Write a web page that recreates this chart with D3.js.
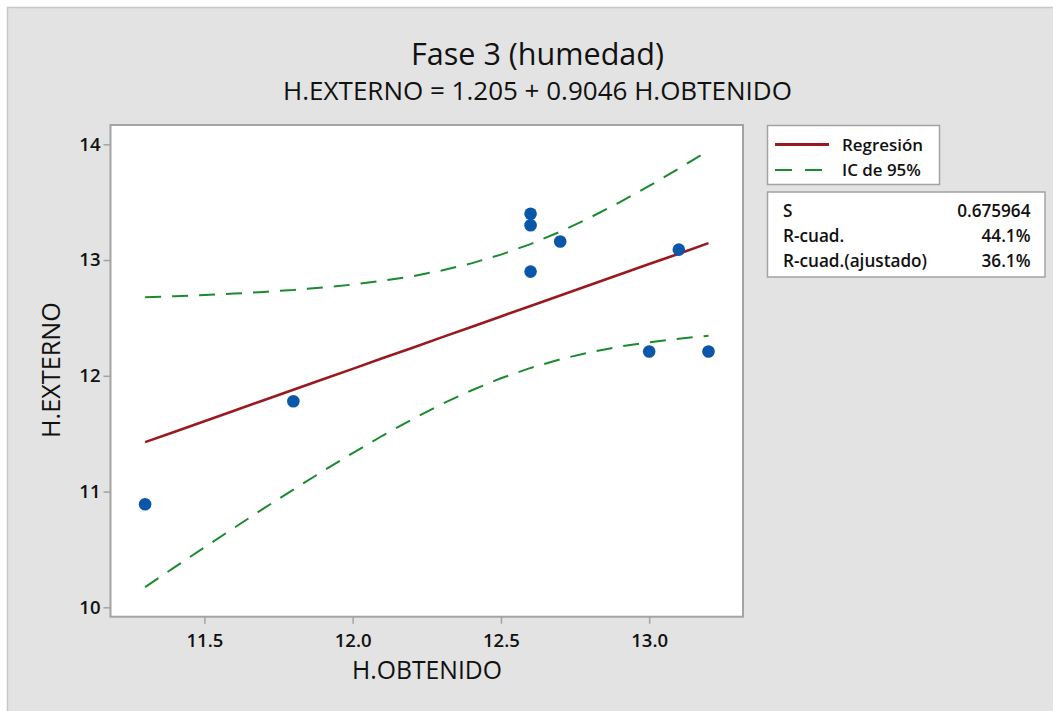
<!DOCTYPE html>
<html>
<head>
<meta charset="utf-8">
<script src="https://cdn.jsdelivr.net/npm/d3@7"></script>
<style>
  html, body { margin: 0; padding: 0; background: #ffffff; }
  svg { display: block; }
  text { font-family: "Segoe UI", "Open Sans", "Noto Sans", sans-serif; fill: #111; }
</style>
</head>
<body>
<svg id="chart" width="1053" height="711"></svg>
<script>
// ---- data ----
const title = "Fase 3 (humedad)";
const subtitle = "H.EXTERNO = 1.205 + 0.9046 H.OBTENIDO";
const xLabel = "H.OBTENIDO";
const yLabel = "H.EXTERNO";

const obtenido = [11.3, 11.8, 12.6, 12.6, 12.6, 12.7, 13.0, 13.1, 13.2];
const externo  = [10.89, 11.78, 13.40, 13.30, 12.90, 13.16, 12.21, 13.09, 12.21];

const fitX     = [11.3, 11.4, 11.5, 11.6, 11.7, 11.8, 11.9, 12.0, 12.1, 12.2, 12.3, 12.4, 12.5, 12.6, 12.7, 12.8, 12.9, 13.0, 13.1, 13.2];
const fitY     = [11.427, 11.517, 11.608, 11.698, 11.789, 11.879, 11.970, 12.060, 12.151, 12.241, 12.332, 12.422, 12.513, 12.603, 12.694, 12.784, 12.875, 12.965, 13.055, 13.146];
const ciUpper  = [12.679, 12.688, 12.698, 12.710, 12.725, 12.741, 12.763, 12.788, 12.820, 12.859, 12.910, 12.971, 13.047, 13.138, 13.245, 13.366, 13.499, 13.640, 13.790, 13.946];
const ciLower  = [10.175, 10.347, 10.518, 10.686, 10.854, 11.017, 11.177, 11.332, 11.482, 11.623, 11.755, 11.873, 11.979, 12.068, 12.143, 12.203, 12.252, 12.290, 12.320, 12.346];

const xTicks = [11.5, 12.0, 12.5, 13.0];
const yTicks = [10, 11, 12, 13, 14];

const legendLabels = ["Regresión", "IC de 95%"];
const statNames  = ["S", "R-cuad.", "R-cuad.(ajustado)"];
const statValues = ["0.675964", "44.1%", "36.1%"];

// ---- layout ----
const svg = d3.select("#chart");
const plot = { left: 110.5, right: 743, top: 125, bottom: 616.7 };

const x = d3.scaleLinear().domain([11.1833, 13.3164]).range([plot.left, plot.right]);
const y = d3.scaleLinear().domain([9.9188, 14.1667]).range([plot.bottom, plot.top]);

const RED = "#981a1e", GREEN = "#1b8a2e", BLUE = "#0a56a8", FRAME = "#a3a3a3";
const FONT = '"Segoe UI", "Open Sans", "Noto Sans", sans-serif';

function fitWidth(sel, target) {
  const node = sel.node();
  const w = node.getComputedTextLength();
  const fs = parseFloat(sel.attr("font-size"));
  sel.attr("font-size", (fs * target / w).toFixed(2));
}

// panel background
svg.append("rect").attr("x", 7.5).attr("y", 7.5).attr("width", 1053).attr("height", 711)
  .attr("fill", "#e3e3e3").attr("stroke", "#c8c8c8").attr("stroke-width", 1.5);

// titles
const t1 = svg.append("text").attr("x", 537.5).attr("y", 65).attr("text-anchor", "middle")
  .attr("font-size", 28).attr("font-weight", 500).text(title);
fitWidth(t1, 253);
const t2 = svg.append("text").attr("x", 537.5).attr("y", 100).attr("text-anchor", "middle")
  .attr("font-size", 22).attr("font-weight", 500).text(subtitle);
fitWidth(t2, 509);

// plot area
svg.append("rect").attr("x", plot.left).attr("y", plot.top)
  .attr("width", plot.right - plot.left).attr("height", plot.bottom - plot.top)
  .attr("fill", "#ffffff").attr("stroke", FRAME).attr("stroke-width", 2);

// axes
const xAxis = svg.append("g").attr("transform", `translate(0,${plot.bottom})`)
  .call(d3.axisBottom(x).tickValues(xTicks).tickFormat(d3.format(".1f")).tickSize(7).tickPadding(10));
const yAxis = svg.append("g").attr("transform", `translate(${plot.left},0)`)
  .call(d3.axisLeft(y).tickValues(yTicks).tickFormat(d3.format("d")).tickSize(7).tickPadding(3));
[xAxis, yAxis].forEach(g => {
  g.select(".domain").remove();
  g.selectAll(".tick line").attr("stroke", FRAME).attr("stroke-width", 1.5);
  g.selectAll(".tick text").attr("font-size", 18.5).attr("font-weight", 600).attr("fill", "#111")
    .style("font-family", FONT);
});

// axis labels
const xl = svg.append("text").attr("x", 427).attr("y", 679).attr("text-anchor", "middle")
  .attr("font-size", 22).attr("font-weight", 500).text(xLabel);
fitWidth(xl, 150);
const yl = svg.append("text").attr("transform", "translate(60,370) rotate(-90)")
  .attr("text-anchor", "middle").attr("font-size", 22).attr("font-weight", 500).text(yLabel);
fitWidth(yl, 136);

// lines
const line = d3.line().x(d => x(d[0])).y(d => y(d[1]));
const g = svg.append("g");
g.append("path").datum(fitX.map((v, i) => [v, ciUpper[i]])).attr("d", line)
  .attr("fill", "none").attr("stroke", GREEN).attr("stroke-width", 2).attr("stroke-dasharray", "16,11");
g.append("path").datum(fitX.map((v, i) => [v, ciLower[i]])).attr("d", line)
  .attr("fill", "none").attr("stroke", GREEN).attr("stroke-width", 2).attr("stroke-dasharray", "16,11");
g.append("path").datum(fitX.map((v, i) => [v, fitY[i]])).attr("d", line)
  .attr("fill", "none").attr("stroke", RED).attr("stroke-width", 2.6);

// points
g.selectAll("circle").data(obtenido.map((v, i) => [v, externo[i]])).join("circle")
  .attr("cx", d => x(d[0])).attr("cy", d => y(d[1])).attr("r", 6.3).attr("fill", BLUE);

// legend box
const lg = svg.append("g");
lg.append("rect").attr("x", 767.5).attr("y", 125.5).attr("width", 172).attr("height", 59)
  .attr("fill", "#fff").attr("stroke", FRAME).attr("stroke-width", 1.5);
lg.append("line").attr("x1", 775).attr("x2", 829).attr("y1", 144.5).attr("y2", 144.5)
  .attr("stroke", RED).attr("stroke-width", 3);
lg.append("line").attr("x1", 775).attr("x2", 829).attr("y1", 170).attr("y2", 170)
  .attr("stroke", GREEN).attr("stroke-width", 2).attr("stroke-dasharray", "17,13");
const legTexts = lg.selectAll("text.leg").data(legendLabels).join("text").attr("class", "leg")
  .attr("x", 842).attr("y", (d, i) => 150.5 + i * 25).attr("font-size", 16.5).attr("font-weight", 600).text(d => d);
fitWidth(d3.select(legTexts.nodes()[0]), 81);
d3.select(legTexts.nodes()[1]).attr("font-size", d3.select(legTexts.nodes()[0]).attr("font-size"));

// stats box
const sg = svg.append("g");
sg.append("rect").attr("x", 767.5).attr("y", 192).attr("width", 277.5).attr("height", 85)
  .attr("fill", "#fff").attr("stroke", FRAME).attr("stroke-width", 1.5);
const sn = sg.selectAll("text.sn").data(statNames).join("text").attr("class", "sn")
  .attr("x", 783).attr("y", (d, i) => 216.5 + i * 25).attr("font-size", 16).attr("font-weight", 600).text(d => d);
fitWidth(d3.select(sn.nodes()[2]), 144);
const statFs = d3.select(sn.nodes()[2]).attr("font-size");
sn.attr("font-size", statFs);
sg.selectAll("text.sv").data(statValues).join("text").attr("class", "sv")
  .attr("x", 1030.5).attr("y", (d, i) => 216.5 + i * 25).attr("text-anchor", "end")
  .attr("font-size", statFs).attr("font-weight", 600).text(d => d);
</script>
</body>
</html>
